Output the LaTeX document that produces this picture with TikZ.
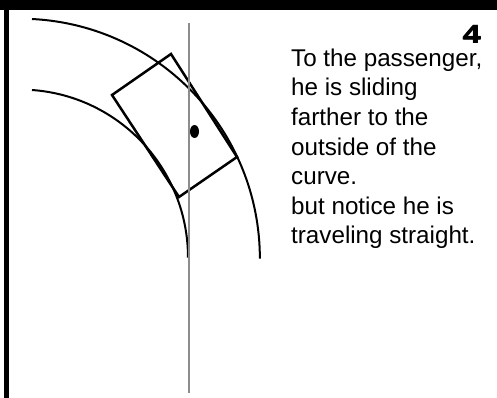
\documentclass[tikz,border=0pt]{standalone}
\usepackage{fontspec}
\setmainfont{Liberation Sans}
\begin{document}
\begin{tikzpicture}[x=1pt,y=-1pt,
  road/.style={line width=2pt},
  carbox/.style={line width=2.5pt, line join=miter},
  lbl/.style={anchor=base west, inner sep=0pt, font=\fontsize{24.2}{25}\selectfont}]
\useasboundingbox (0,0) rectangle (497,398);
\fill[white] (0,0) rectangle (497,398);
% frame bars
\fill[black] (0,0.5) rectangle (497,10.5);
\fill[black] (4,0) rectangle (9,398);
% road
\draw[road] (32,19) arc[start angle=87.1, end angle=0, radius=240pt];
\draw[road] (32,90) arc[start angle=85.9, end angle=0, radius=168pt];
% car
\draw[carbox] (171,54) -- (237,157) -- (179,197) -- (112,95) -- cycle;
% passenger
\fill[black] (194.5,131.5) ellipse[x radius=4.5pt, y radius=6.5pt];
% straight path
\draw[line width=2pt, color=black!45] (189,23) -- (189,393);
% texts
\node[anchor=base east, inner sep=0pt, xscale=1.3, font=\fontsize{25}{25}\selectfont\bfseries] (num) at (481.5,43.5) {\rlap{4}\kern0.7pt\rlap{\raisebox{0.5pt}{4}}4};
\node[lbl] (t1) at (291,66.5) {To the passenger,};
\node[lbl] (t2) at (291,96) {he is sliding};
\node[lbl] (t3) at (291,125.5) {farther to the};
\node[lbl] (t4) at (291,155) {outside of the};
\node[lbl] (t5) at (291,184.5) {curve.};
\node[lbl] (t6) at (291,214) {but notice he is};
\node[lbl] (t7) at (291,243.5) {traveling straight.};
\end{tikzpicture}
\end{document}
